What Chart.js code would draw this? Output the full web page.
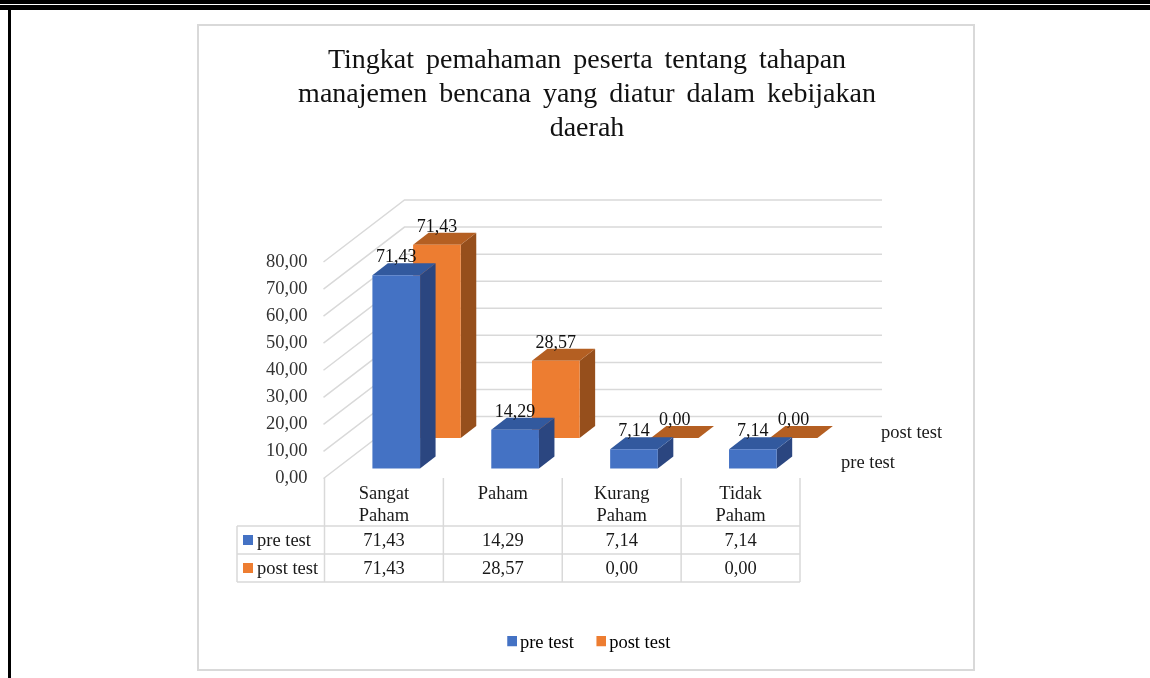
<!DOCTYPE html>
<html><head><meta charset="utf-8">
<script src="https://cdn.jsdelivr.net/npm/chart.js@4"></script>
<style>
html,body{margin:0;padding:0;background:#fff;overflow:hidden}
#c{position:absolute;left:0;top:0}
.k{position:absolute;background:#000}
#card{position:absolute;left:196.5px;top:23.5px;width:774.5px;height:643.5px;border:2px solid #d9d9d9}
</style></head><body>
<div id="card"></div>
<canvas id="c" width="1150" height="678"></canvas>
<div class="k" style="left:0;top:0;width:1150px;height:4px"></div>
<div class="k" style="left:0;top:5px;width:1150px;height:5px"></div>
<div class="k" style="left:8px;top:5px;width:3px;height:673px"></div>
<script>
const titleLines = ['Tingkat pemahaman peserta tentang tahapan','manajemen bencana yang diatur dalam kebijakan','daerah'];
const categories = [['Sangat','Paham'],['Paham'],['Kurang','Paham'],['Tidak','Paham']];
const preTest = [71.43,14.29,7.14,7.14];
const postTest = [71.43,28.57,0,0];
const seriesNames = ['pre test','post test'];
const seriesColors = ['#4472C4','#ED7D31'];
const sideColors = ['#2B4680','#964F1C'];
const topColors = ['#32599E','#B45F22'];

const SERIF = '"Liberation Serif"';
const TXT = 18.5;
const fmt = v => Number(v).toFixed(2).replace('.',',');
const GRID = '#d9d9d9';
const WALL = {dx:81, dy:-62};
const OFFS = [{dx:12.3,dy:-10},{dx:53,dy:-40.5}];
const DEPTH = {dx:15.5,dy:-12};

function swatch(color){
  const s=document.createElement('canvas');s.width=14;s.height=13;
  const g=s.getContext('2d');g.fillStyle=color;g.fillRect(4,0,10,10);return s;
}

const threeD = {
  id:'threeD',
  afterLayout(chart){
    const t=chart.titleBlock;
    if(t && !t._wrapped){
      const orig=t.draw.bind(t);
      t.draw=function(){const c=chart.ctx;c.save();c.wordSpacing='5px';orig();c.restore();};
      t._wrapped=true;
    }
    chart.legend.left+=3;chart.legend.right+=3;
  },
  beforeDatasetsDraw(chart){
    const c=chart.ctx,y=chart.scales.y,x=chart.scales.x;
    c.save();c.strokeStyle=GRID;c.lineWidth=1.5;
    const gridEnd=x.right+82;
    y.ticks.forEach(t=>{
      const py=y.getPixelForValue(t.value);
      c.beginPath();c.moveTo(x.left-1,py);
      c.lineTo(x.left+WALL.dx-1,py+WALL.dy);
      c.lineTo(gridEnd,py+WALL.dy);
      c.stroke();
    });
    c.restore();
    // table
    c.save();c.strokeStyle=GRID;c.lineWidth=1.5;
    const rows=[526,554,582];
    const n=categories.length;
    const edge=i=>x.left+(x.right-x.left)*i/n;
    for(let i=0;i<=n;i++){
      c.beginPath();c.moveTo(edge(i),478);c.lineTo(edge(i),582);c.stroke();
    }
    rows.forEach(r=>{c.beginPath();c.moveTo(237,r);c.lineTo(x.right,r);c.stroke();});
    c.beginPath();c.moveTo(237,526);c.lineTo(237,582);c.stroke();
    c.fillStyle='#1a1a1a';c.font=TXT+'px '+SERIF;c.textBaseline='middle';
    [preTest,postTest].forEach((vals,s)=>{
      const cy=s===0?541:569;
      c.fillStyle=seriesColors[s];c.fillRect(243,cy-6,10,10);
      c.fillStyle='#1a1a1a';c.textAlign='left';c.fillText(seriesNames[s],257,cy);
      c.textAlign='center';
      vals.forEach((v,i)=>c.fillText(fmt(v),x.getPixelForValue(i),cy));
    });
    // depth-axis series names
    c.textAlign='left';
    c.fillText(seriesNames[1],x.right+81,433);
    c.fillText(seriesNames[0],x.right+41,463);
    c.restore();
  },
  beforeDatasetDraw(chart,args){
    const c=chart.ctx,o=OFFS[args.index];
    c.save();c.translate(o.dx,o.dy);
    chart.getDatasetMeta(args.index).data.forEach(b=>{
      const l=b.x-b.width/2,r=b.x+b.width/2,t=b.y,bt=b.base;
      if(bt-t>0.5){
        c.fillStyle=sideColors[args.index];
        c.beginPath();c.moveTo(r,t);c.lineTo(r+DEPTH.dx,t+DEPTH.dy);
        c.lineTo(r+DEPTH.dx,bt+DEPTH.dy);c.lineTo(r,bt);c.closePath();c.fill();
      }
      c.fillStyle=topColors[args.index];
      c.beginPath();c.moveTo(l,t);c.lineTo(l+DEPTH.dx,t+DEPTH.dy);
      c.lineTo(r+DEPTH.dx,t+DEPTH.dy);c.lineTo(r,t);c.closePath();c.fill();
    });
  },
  afterDatasetDraw(chart){chart.ctx.restore();},
  afterDatasetsDraw(chart){
    const c=chart.ctx;
    c.save();c.fillStyle='#111';c.font='18px '+SERIF;c.textAlign='center';c.textBaseline='middle';
    [1,0].forEach(s=>{
      const o=OFFS[s];
      chart.getDatasetMeta(s).data.forEach((b,i)=>{
        const v=chart.data.datasets[s].data[i];
        c.fillText(fmt(v),b.x+o.dx,b.y+o.dy-17.5);
      });
    });
    c.restore();
  }
};

new Chart(document.getElementById('c'),{
  type:'bar',
  data:{labels:categories,datasets:[
    {label:seriesNames[0],data:preTest,backgroundColor:seriesColors[0],clip:false,grouped:false,barPercentage:0.401,categoryPercentage:1},
    {label:seriesNames[1],data:postTest,backgroundColor:seriesColors[1],clip:false,grouped:false,barPercentage:0.401,categoryPercentage:1}
  ]},
  plugins:[threeD],
  options:{
    responsive:false,animation:false,
    layout:{padding:{left:197,right:173,top:24,bottom:16}},
    plugins:{
      tooltip:{enabled:false},
      title:{display:true,text:titleLines,color:'#111',
        font:{family:SERIF,size:28,weight:'normal',lineHeight:34/28},
        padding:{top:20,bottom:116}},
      legend:{position:'bottom',
        labels:{color:'#1a1a1a',font:{family:SERIF,size:TXT},usePointStyle:true,pointStyleWidth:1,boxHeight:10,padding:25,
          generateLabels:ch=>ch.data.datasets.map((d,i)=>({text:d.label,fillStyle:d.backgroundColor,strokeStyle:d.backgroundColor,lineWidth:0,pointStyle:swatch(d.backgroundColor),datasetIndex:i,hidden:false}))}}
    },
    scales:{
      x:{grid:{display:false,drawTicks:false},border:{display:false},
        ticks:{color:'#1a1a1a',font:{family:SERIF,size:TXT,lineHeight:22/18.5},padding:5,maxRotation:0,minRotation:0,autoSkip:false},
        afterFit(s){s.height=130;}},
      y:{min:0,max:80,grid:{display:false,drawTicks:false},border:{display:false},
        ticks:{stepSize:10,color:'#333',font:{family:SERIF,size:TXT},padding:17,callback:v=>fmt(v)},
        afterFit(s){s.width=127.5;}},
      yPad:{position:'right',display:true,min:0,max:80,grid:{display:false,drawTicks:false},border:{display:false},
        ticks:{display:false},afterFit(s){s.width=177;}}
    }
  }
});
</script></body></html>
